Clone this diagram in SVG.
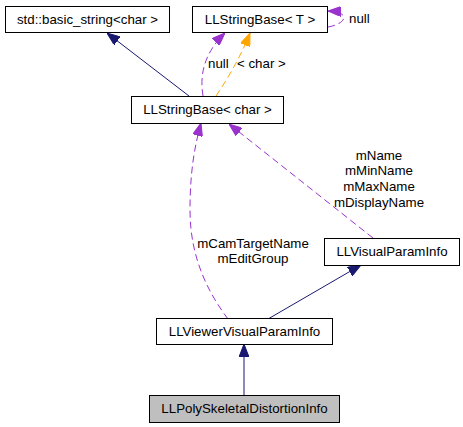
<svg xmlns="http://www.w3.org/2000/svg" width="463" height="427" viewBox="0 0 463 427">
<style>
.node rect{fill:#fff;stroke:#000;stroke-width:1}
.node.hl rect{fill:#bfbfbf}
text{font-family:"Liberation Sans",Arial,sans-serif;font-size:13.3px;fill:#000}
.n text{text-anchor:middle}
.e{fill:none;stroke-width:1}
.inh{stroke:#191970}
.use{stroke:#9a32cd;stroke-dasharray:7,4}
.tpl{stroke:#ffa500;stroke-dasharray:7,4}
</style>
<defs>
<marker id="aN" viewBox="0 0 13 10" refX="13" refY="5" markerWidth="13" markerHeight="10" markerUnits="userSpaceOnUse" orient="auto"><path d="M0,0L13,5L0,10z" fill="#191970" stroke="#191970"/></marker>
<marker id="aP" viewBox="0 0 13 10" refX="13" refY="5" markerWidth="13" markerHeight="10" markerUnits="userSpaceOnUse" orient="auto"><path d="M0,0L13,5L0,10z" fill="#9a32cd" stroke="#9a32cd"/></marker>
<marker id="aO" viewBox="0 0 13 10" refX="13" refY="5" markerWidth="13" markerHeight="10" markerUnits="userSpaceOnUse" orient="auto"><path d="M0,0L13,5L0,10z" fill="#ffa500" stroke="#ffa500"/></marker>
</defs>
<g id="edges">
<path class="e inh" d="M189,96 L107,33" marker-end="url(#aN)"/>
<path class="e use" d="M328,27 C346,24 352,12 328,11" marker-end="url(#aP)"/>
<path class="e use" d="M203,96 C200,78 202,55 225,33" marker-end="url(#aP)"/>
<path class="e tpl" d="M216,96 C228,78 240,58 250,33" marker-end="url(#aO)"/>
<path class="e use" d="M228,319 C210,295 190,260 190,210 C190,170 195,145 201,123" marker-end="url(#aP)"/>
<path class="e use" d="M373,238 L229,124" marker-end="url(#aP)"/>
<path class="e inh" d="M268,319 L361,265" marker-end="url(#aN)"/>
<path class="e inh" d="M244,395 L244,344" marker-end="url(#aN)"/>
<text x="349" y="23">null</text>
<text x="208" y="68">null</text>
<text x="237" y="68">&lt; char &gt;</text>
<g text-anchor="middle">
<text x="379" y="160">mName</text>
<text x="379" y="175">mMinName</text>
<text x="379" y="191">mMaxName</text>
<text x="379" y="207">mDisplayName</text>
<text x="253" y="248">mCamTargetName</text>
<text x="253" y="263">mEditGroup</text>
</g>
</g>
<g id="node-basic_string" class="node n"><rect x="5.5" y="6.5" width="164" height="26"/><text x="87.5" y="24">std::basic_string&lt;char &gt;</text></g>
<g id="node-LLStringBaseT" class="node n"><rect x="192.5" y="6.5" width="135" height="26"/><text x="260" y="24">LLStringBase&lt; T &gt;</text></g>
<g id="node-LLStringBaseChar" class="node n"><rect x="131.5" y="96.5" width="152" height="27"/><text x="207.5" y="114">LLStringBase&lt; char &gt;</text></g>
<g id="node-LLVisualParamInfo" class="node n"><rect x="324.5" y="238.5" width="135" height="27"/><text x="392" y="256">LLVisualParamInfo</text></g>
<g id="node-LLViewerVisualParamInfo" class="node n"><rect x="156.5" y="318.5" width="176" height="26"/><text x="244.5" y="336">LLViewerVisualParamInfo</text></g>
<g id="node-LLPolySkeletalDistortionInfo" class="node n hl"><rect x="149.5" y="395.5" width="190" height="27"/><text x="244.5" y="413">LLPolySkeletalDistortionInfo</text></g>
</svg>
